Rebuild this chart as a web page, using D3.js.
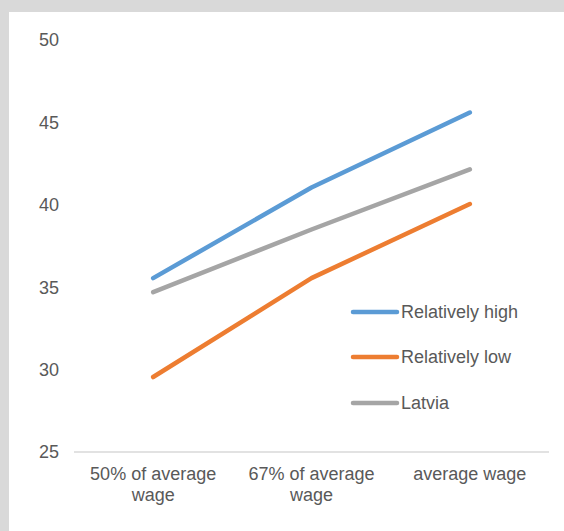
<!DOCTYPE html>
<html>
<head>
<meta charset="utf-8">
<script src="https://cdn.jsdelivr.net/npm/d3@7"></script>
<style>
    body { margin: 0; background: #d9d9d9; }
    #chart { position: absolute; left: 9px; top: 12px; width: 555px; height: 519px; background: #fff; }
    text { font-family: "Liberation Sans", Arial, sans-serif; fill: #595959; }
</style>
</head>
<body>
<div id="chart"></div>
<script>
// categories and series
let categories = ["50% of average wage", "67% of average wage", "average wage"];
let categoryLines = [["50% of average", "wage"], ["67% of average", "wage"], ["average wage"]];
let seriesNames = ["Relatively high", "Relatively low", "Latvia"];
let relativelyHigh = [35.55, 41.05, 45.6];
let relativelyLow = [29.55, 35.55, 40.05];
let latvia = [34.7, 38.5, 42.15];
let yTicks = [25, 30, 35, 40, 45, 50];

let colors = ["#5b9bd5", "#ed7d31", "#a5a5a5"];
let allSeries = [relativelyHigh, relativelyLow, latvia];

// svg sits in the white box, offset by the grey frame
let offX = 9, offY = 12;
let svg = d3.select("#chart").append("svg")
    .attr("width", 555)
    .attr("height", 519)
    .append("g")
    .attr("transform", "translate(" + (-offX) + "," + (-offY) + ")");

// scales in page coordinates
let x = d3.scaleBand().domain(categories).range([74, 549]);
let y = d3.scaleLinear().domain([25, 50]).range([452, 40]);

// baseline
svg.append("line")
    .attr("x1", 74).attr("x2", 549)
    .attr("y1", y(25)).attr("y2", y(25))
    .attr("stroke", "#d9d9d9")
    .attr("stroke-width", 1.3);

// y axis labels
svg.append("g")
    .selectAll("text")
    .data(yTicks)
    .enter()
    .append("text")
    .attr("x", 59)
    .attr("y", d => y(d))
    .attr("dy", "0.35em")
    .attr("text-anchor", "end")
    .style("font-size", "18px")
    .text(d => d);

// x axis labels
let xLab = svg.append("g")
    .selectAll("text")
    .data(categories)
    .enter()
    .append("text")
    .attr("text-anchor", "middle")
    .style("font-size", "18px");

xLab.selectAll("tspan")
    .data((d, i) => categoryLines[i].map(t => ({t: t, c: d})))
    .enter()
    .append("tspan")
    .attr("x", d => x(d.c) + x.bandwidth() / 2)
    .attr("y", (d, j) => 480 + j * 21)
    .text(d => d.t);

// lines
let line = d3.line()
    .x((d, i) => x(categories[i]) + x.bandwidth() / 2)
    .y(d => y(d));

allSeries.forEach((s, i) => {
    svg.append("path")
        .datum(s)
        .attr("d", line)
        .attr("fill", "none")
        .attr("stroke", colors[i])
        .attr("stroke-width", 4.5)
        .attr("stroke-linecap", "round")
        .attr("stroke-linejoin", "round");
});

// legend
let legend = svg.append("g").attr("class", "legend");
let legendY = [312, 357, 403];
seriesNames.forEach((name, i) => {
    legend.append("line")
        .attr("x1", 353).attr("x2", 397)
        .attr("y1", legendY[i]).attr("y2", legendY[i])
        .attr("stroke", colors[i])
        .attr("stroke-width", 4.5)
        .attr("stroke-linecap", "round");
    legend.append("text")
        .attr("x", 401)
        .attr("y", legendY[i])
        .attr("dy", "0.35em")
        .style("font-size", "18px")
        .text(name);
});
</script>
</body>
</html>
